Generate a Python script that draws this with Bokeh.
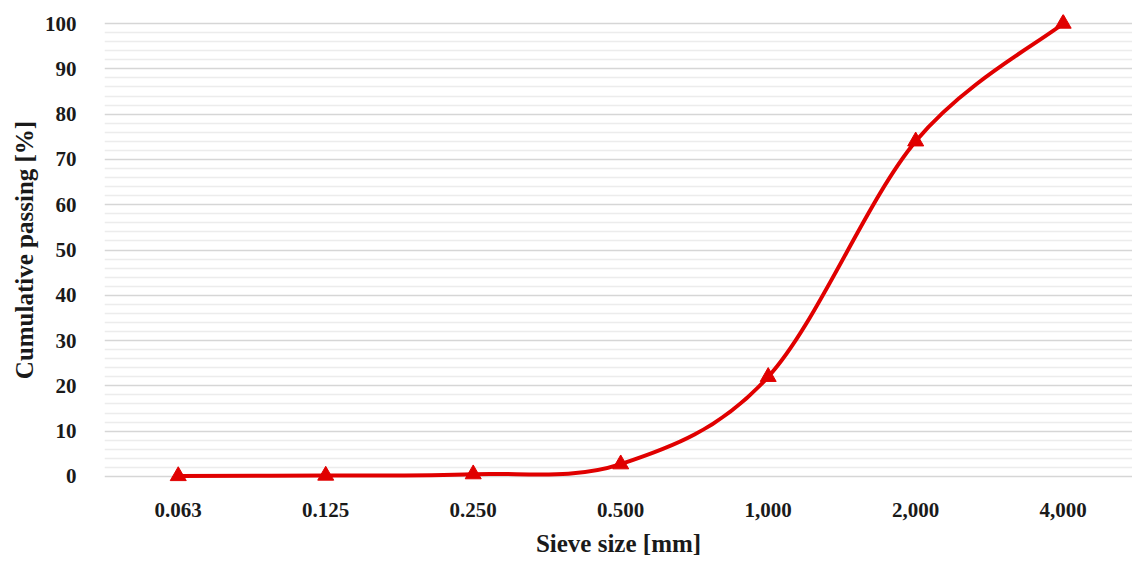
from bokeh.plotting import figure
from bokeh.models import Range1d, FixedTicker
from bokeh.embed import file_html
from bokeh.resources import INLINE

sieve_labels = ["0.063", "0.125", "0.250", "0.500", "1,000", "2,000", "4,000"]
passing = [0.1, 0.2, 0.5, 2.7, 22.0, 74.0, 100.0]

xs = list(range(1, len(sieve_labels) + 1))
RED = "#e00000"
FONT = "Liberation Serif"

p = figure(width=1132, height=561, output_backend="svg", toolbar_location=None,
           x_range=Range1d(0.5, 7.47), y_range=Range1d(-2, 102),
           min_border_left=104, min_border_right=0, min_border_top=14, min_border_bottom=76)
p.outline_line_color = None
p.background_fill_color = "white"

# smoothed line (Catmull-Rom as Bezier segments, like a spreadsheet "smoothed line")
n = len(xs)
x0, y0, x1, y1, cx0, cy0, cx1, cy1 = [], [], [], [], [], [], [], []
for i in range(n - 1):
    pa = (xs[max(i - 1, 0)], passing[max(i - 1, 0)])
    pb = (xs[i], passing[i])
    pc = (xs[i + 1], passing[i + 1])
    pd = (xs[min(i + 2, n - 1)], passing[min(i + 2, n - 1)])
    x0.append(pb[0]); y0.append(pb[1]); x1.append(pc[0]); y1.append(pc[1])
    cx0.append(pb[0] + (pc[0] - pa[0]) / 6); cy0.append(pb[1] + (pc[1] - pa[1]) / 6)
    cx1.append(pc[0] - (pd[0] - pb[0]) / 6); cy1.append(pc[1] - (pd[1] - pb[1]) / 6)
p.bezier(x0=x0, y0=y0, x1=x1, y1=y1, cx0=cx0, cy0=cy0, cx1=cx1, cy1=cy1,
         line_color=RED, line_width=4)
p.scatter(xs, passing, marker="triangle", size=16, fill_color=RED, line_color=RED)

p.xaxis.ticker = FixedTicker(ticks=xs)
p.xaxis.major_label_overrides = {x: l for x, l in zip(xs, sieve_labels)}
p.yaxis.ticker = FixedTicker(ticks=list(range(0, 101, 10)),
                             minor_ticks=[v for v in range(2, 100, 2) if v % 10])

for ax in (p.xaxis[0], p.yaxis[0]):
    ax.axis_line_color = None
    ax.major_tick_line_color = None
    ax.minor_tick_line_color = None
    ax.major_label_text_font = FONT
    ax.major_label_text_font_style = "bold"
    ax.major_label_text_font_size = "21px"
    ax.major_label_text_color = "#1a1a1a"
    ax.axis_label_text_font = FONT
    ax.axis_label_text_font_style = "bold"
    ax.axis_label_text_font_size = "25px"
    ax.axis_label_text_color = "#1a1a1a"

p.xaxis.axis_label = "Sieve size [mm]"
p.yaxis.axis_label = "Cumulative passing [%]"
p.xaxis.major_label_standoff = 11
p.yaxis.major_label_standoff = 22
p.xaxis.axis_label_standoff = 10
p.yaxis.axis_label_standoff = 4

p.xgrid.grid_line_color = None
p.ygrid.grid_line_color = "#d6d6d6"
p.ygrid.grid_line_width = 1.5
p.ygrid.minor_grid_line_color = "#ececec"
p.ygrid.minor_grid_line_width = 1.5

open("out.html", "w").write(file_html(p, INLINE))
